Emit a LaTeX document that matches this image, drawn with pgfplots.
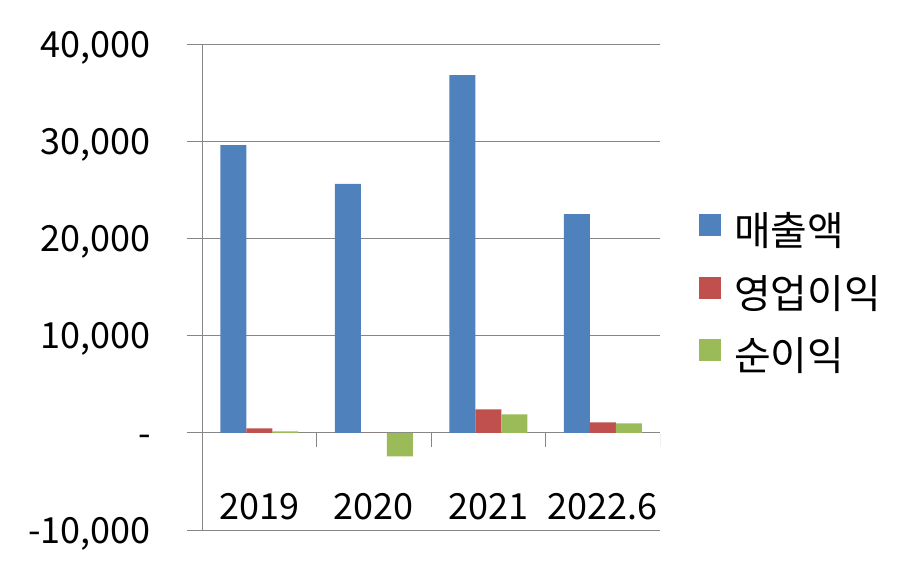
\documentclass[border=0pt]{standalone}
\usepackage{pgfplots}
\pgfplotsset{compat=1.18}
\usepackage{fontspec}
\setmainfont{Noto Sans CJK KR}
\definecolor{cBlue}{RGB}{79,129,189}
\definecolor{cRed}{RGB}{192,80,77}
\definecolor{cGreen}{RGB}{155,187,89}
\definecolor{cGrid}{RGB}{134,134,134}
\begin{document}
\begin{tikzpicture}
\path[use as bounding box] (0bp,0bp) rectangle (904bp,574bp);
\begin{axis}[
  at={(202bp,44bp)}, anchor=south west,
  scale only axis, width=458bp, height=486bp,
  xmin=-0.5, xmax=3.5, ymin=-10000, ymax=40000,
  axis lines*=left,
  x axis line style={draw=none},
  y axis line style={cGrid, line width=1bp},
  xtick={0,1,2,3},
  xticklabels={2019,2020,2021,2022.6},
  xtick style={draw=none},
  ytick={-10000,0,10000,20000,30000,40000},
  yticklabels={{-10,000},{-},{10,000},{20,000},{30,000},{40,000}},
  scaled y ticks=false,
  ytick style={cGrid, line width=1bp},
  tick align=outside, major tick length=15bp,
  ymajorgrids, grid style={cGrid, line width=1bp},
  tick label style={font=\fontsize{36.13}{43}\selectfont},
  yticklabel style={anchor=base east, inner sep=0pt, xshift=-36bp, yshift=-13.3bp},
  xticklabel style={anchor=base, inner sep=0pt, yshift=25bp},
  ybar=0pt, bar width=26bp,
  legend style={draw=none, fill=none, at={(1.085,0.650)}, anchor=north west,
    font=\fontsize{40}{47}\selectfont, inner sep=0pt,
    nodes={inner sep=0pt, text height=31bp, text depth=6bp},
    row sep=25bp, column sep=0pt,
    /tikz/every odd column/.append style={column sep=13bp}},
  legend cell align=left,
  legend image code/.code={\fill (0bp,-3bp) rectangle (22bp,19bp);},
]
\addplot[fill=cBlue, draw=none] coordinates {(0,29600) (1,25600) (2,36800) (3,22500)};
\addplot[fill=cRed, draw=none] coordinates {(0,450) (1,0) (2,2400) (3,1070)};
\addplot[fill=cGreen, draw=none] coordinates {(0,140) (1,-2420) (2,1900) (3,960)};
\legend{매출액,영업이익,순이익}
\draw[cGrid, line width=1bp] (axis cs:0.5,0) -- ([yshift=-14bp]axis cs:0.5,0);
\draw[cGrid, line width=1bp] (axis cs:1.5,0) -- ([yshift=-14bp]axis cs:1.5,0);
\draw[cGrid, line width=1bp] (axis cs:2.5,0) -- ([yshift=-14bp]axis cs:2.5,0);
\draw[cGrid, line width=1bp] (axis cs:3.5,0) -- ([yshift=-14bp]axis cs:3.5,0);
\end{axis}
\end{tikzpicture}
\end{document}
